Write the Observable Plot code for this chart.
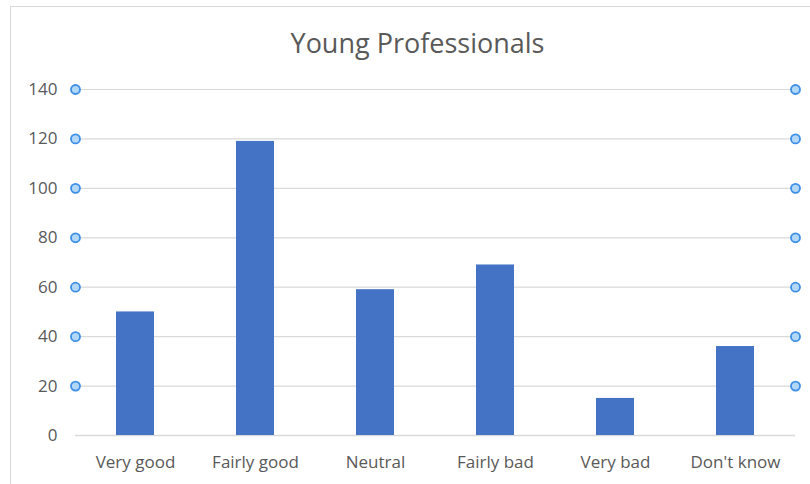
<!DOCTYPE html>
<html>
<head>
<meta charset="utf-8">
<script src="https://cdn.jsdelivr.net/npm/d3@7"></script>
<script src="https://cdn.jsdelivr.net/npm/@observablehq/plot@0.6"></script>
<style>
  html, body { margin: 0; padding: 0; background: #fff; }
  #wrap { position: relative; width: 810px; height: 484px; overflow: hidden; }
  #frame { position: absolute; left: 10px; top: 6px; width: 810px; height: 490px;
           border-top: 1.5px solid #d9d9d9; border-left: 1.5px solid #d9d9d9; box-sizing: border-box; }
  #chart { position: absolute; left: 0; top: 0; }
</style>
</head>
<body>
<div id="wrap"><div id="frame"></div><div id="chart"></div></div>
<script>
const title = "Young Professionals";
const categories = ["Very good", "Fairly good", "Neutral", "Fairly bad", "Very bad", "Don't know"];
const values = [50, 119, 59, 69, 15, 36];
const yTicks = [0, 20, 40, 60, 80, 100, 120, 140];
const handleTicks = [20, 40, 60, 80, 100, 120, 140];

const data = categories.map((c, i) => ({category: c, value: values[i]}));
const font = "'Open Sans', sans-serif";

const chart = Plot.plot({
  width: 810,
  height: 484,
  marginTop: 89,
  marginBottom: 49,
  marginLeft: 75,
  marginRight: 15,
  style: {fontFamily: font, fontSize: "17px", color: "#595959", background: "transparent"},
  x: {domain: categories, paddingInner: 0.68, paddingOuter: 0.34, label: null, tickSize: 0, tickPadding: 20},
  y: {domain: [0, 140], ticks: yTicks, label: null, tickSize: 0, tickPadding: 18},
  marks: [
    Plot.gridY(yTicks.filter(d => d > 0), {stroke: "#d9d9d9", strokeOpacity: 1, strokeWidth: 1.2}),
    Plot.ruleY([0], {stroke: "#d9d9d9", strokeWidth: 1.5}),
    Plot.barY(data, {x: "category", y: "value", fill: "#4472C4"}),
    Plot.dot(handleTicks, {y: d => d, frameAnchor: "left", r: 4.5, fill: "#b3d7f7", stroke: "#3d8fe6", strokeWidth: 1.8}),
    Plot.dot(handleTicks, {y: d => d, frameAnchor: "right", r: 4.5, fill: "#b3d7f7", stroke: "#3d8fe6", strokeWidth: 1.8}),
    Plot.text([title], {frameAnchor: "top", lineAnchor: "middle", dy: -45, dx: -18, fontSize: 27, fill: "#595959", fontFamily: font})
  ]
});
document.getElementById("chart").appendChild(chart);
</script>
</body>
</html>
